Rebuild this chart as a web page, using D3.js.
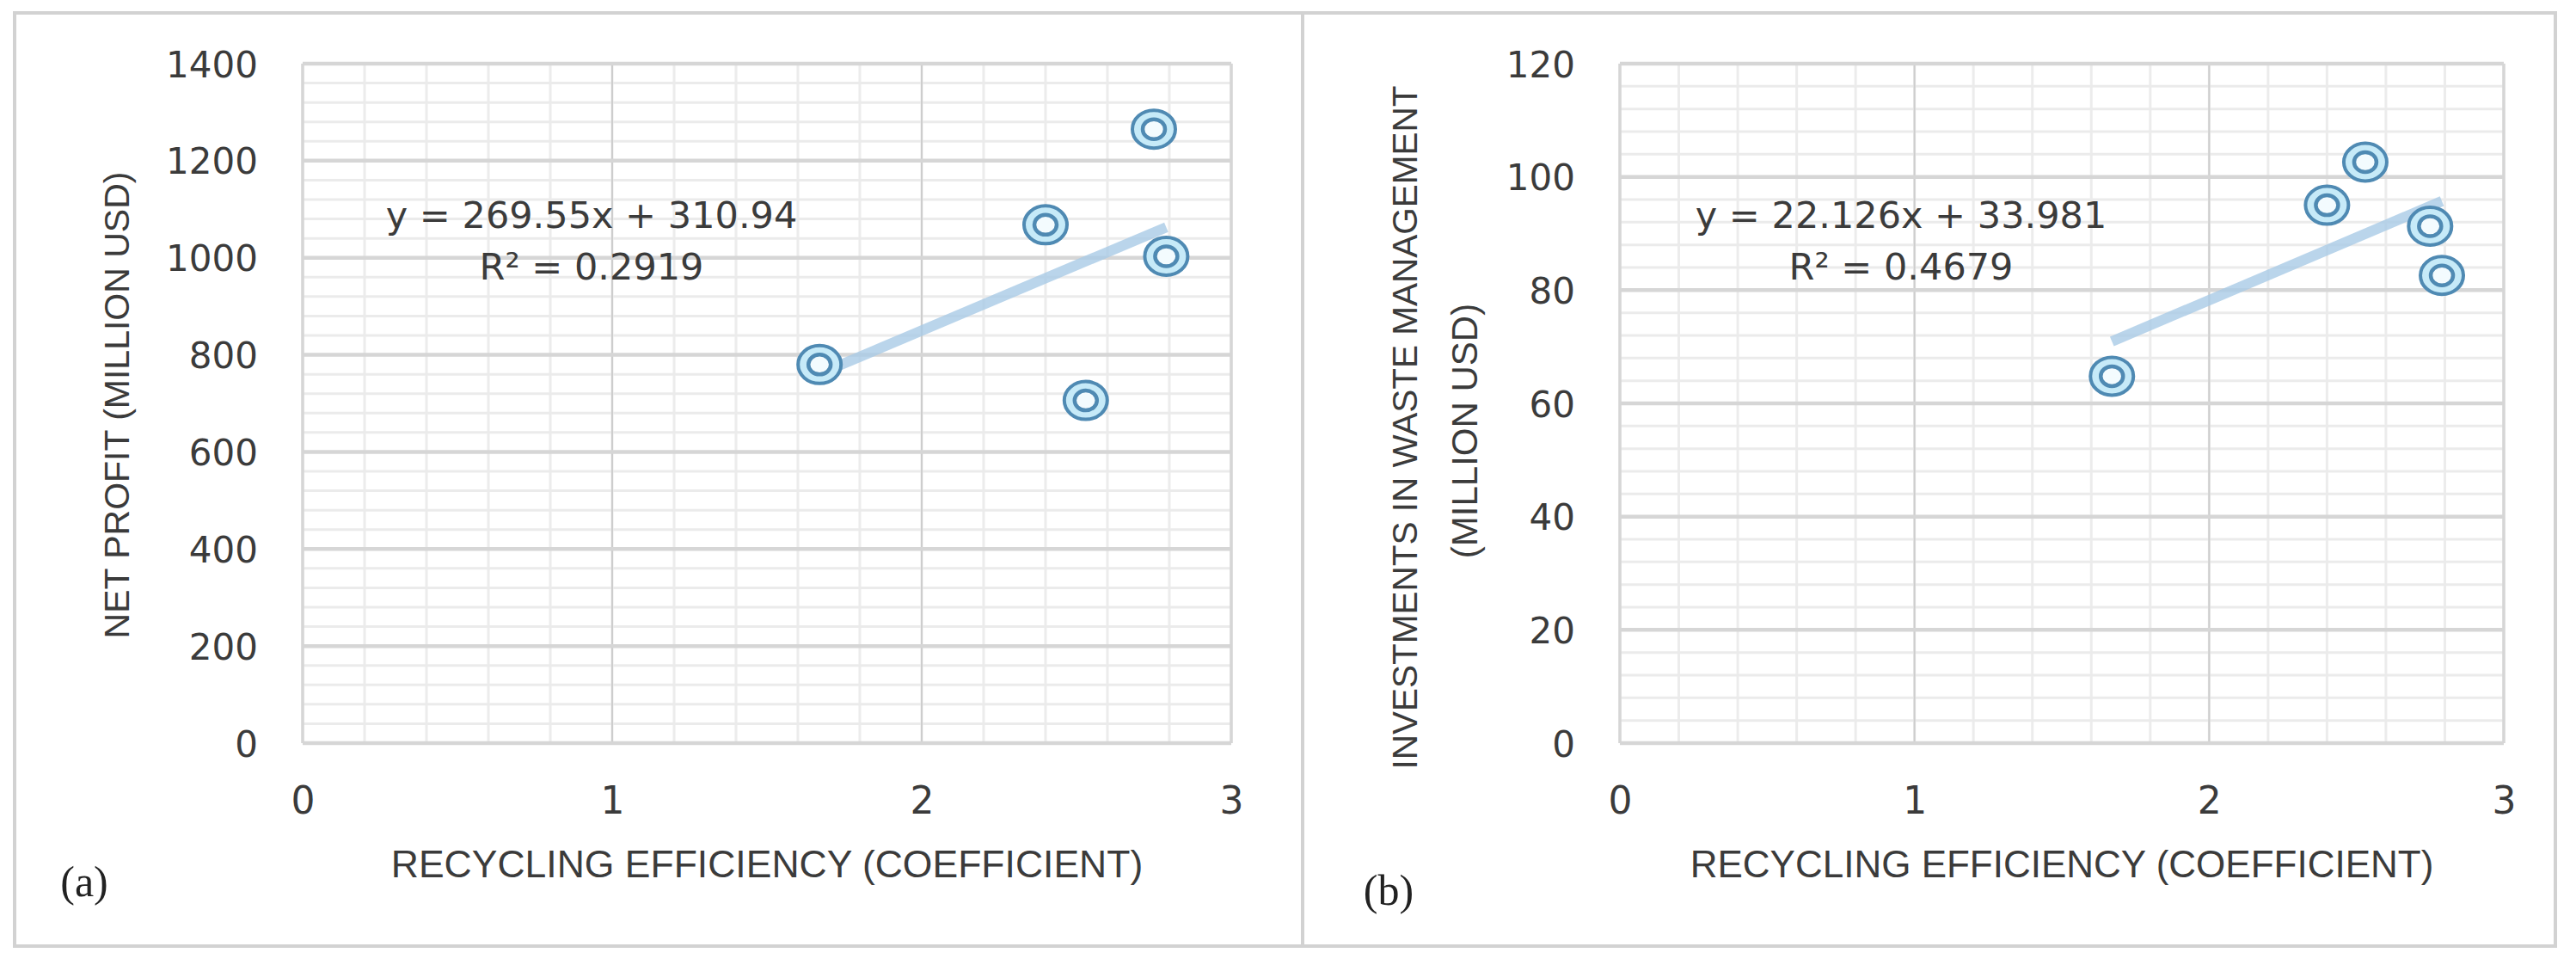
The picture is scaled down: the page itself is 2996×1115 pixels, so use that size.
<!DOCTYPE html>
<html><head><meta charset="utf-8">
<script src="https://cdn.jsdelivr.net/npm/d3@7"></script>
<style>html,body{margin:0;padding:0;background:#fff;} svg{display:block;}</style>
</head><body>
<svg id="chart" width="2996" height="1115"></svg>
<script>
// ---- data ----
const recyclingEfficiency = [1.67, 2.40, 2.53, 2.75, 2.79];
const netProfit = [780, 1068, 706, 1265, 1003];
const wasteInvestment = [64.8, 95.0, 102.6, 91.3, 82.6];
const xTicks = [0, 1, 2, 3];
const profitTicks = [0, 200, 400, 600, 800, 1000, 1200, 1400];
const investTicks = [0, 20, 40, 60, 80, 100, 120];
const trendSlopes = [269.55, 22.126];
const trendIntercepts = [310.94, 33.981];
const equationLabels = ["y = 269.55x + 310.94", "y = 22.126x + 33.981"];
const r2Labels = ["R\u00B2 = 0.2919", "R\u00B2 = 0.4679"];
const yTitles = [["NET PROFIT (MILLION USD)"], ["INVESTMENTS IN WASTE MANAGEMENT", "(MILLION USD)"]];
const xTitle = "RECYCLING EFFICIENCY (COEFFICIENT)";
const panelLabels = ["(a)", "(b)"];

// ---- layout ----
const svg = d3.select("#chart");
const TEXT = "#3b3b3b";
const panels = [
  { ys: netProfit, yTicks: profitTicks, minorStep: 40, x0: 352, x1: 1432, top: 74, bot: 864,
    eqX: 688, yTitle: [{ bx: 150, cy: 471, fs: 41 }],
    lab: { x: 98, y: 1042 } },
  { ys: wasteInvestment, yTicks: investTicks, minorStep: 4, x0: 1884, x1: 2912, top: 74, bot: 864,
    eqX: 2211, yTitle: [{ bx: 1648, cy: 497, fs: 40.5 }, { bx: 1718, cy: 501, fs: 42 }],
    lab: { x: 1615, y: 1052 } }
];

// outer frame
svg.append("rect").attr("x", 17).attr("y", 15).attr("width", 2955).attr("height", 1085)
  .attr("fill", "none").attr("stroke", "#d2d2d2").attr("stroke-width", 4);
svg.append("line").attr("x1", 1515).attr("x2", 1515).attr("y1", 15).attr("y2", 1100)
  .attr("stroke", "#d2d2d2").attr("stroke-width", 4);

panels.forEach((p, i) => {
  const yMax = d3.max(p.yTicks);
  const x = d3.scaleLinear().domain([0, 3]).range([p.x0, p.x1]);
  const y = d3.scaleLinear().domain([0, yMax]).range([p.bot, p.top]);
  const g = svg.append("g");

  // minor gridlines
  const minorX = d3.range(0, 3.0001, 0.2);
  const minorY = d3.range(0, yMax + 0.001, p.minorStep);
  g.selectAll(".mx").data(minorX).join("line")
    .attr("x1", d => x(d)).attr("x2", d => x(d)).attr("y1", p.top).attr("y2", p.bot)
    .attr("stroke", "#ececec").attr("stroke-width", 3);
  g.selectAll(".my").data(minorY).join("line")
    .attr("x1", p.x0).attr("x2", p.x1).attr("y1", d => y(d)).attr("y2", d => y(d))
    .attr("stroke", "#ebebeb").attr("stroke-width", 3);
  // major gridlines
  g.selectAll(".Mx").data(xTicks).join("line")
    .attr("x1", d => x(d)).attr("x2", d => x(d)).attr("y1", p.top).attr("y2", p.bot)
    .attr("stroke", d => (d === 0 || d === 3) ? "#d6d6d6" : "#cdcdcd")
    .attr("stroke-width", d => (d === 0 || d === 3) ? 3.5 : 2);
  g.selectAll(".My").data(p.yTicks).join("line")
    .attr("x1", p.x0).attr("x2", p.x1).attr("y1", d => y(d)).attr("y2", d => y(d))
    .attr("stroke", "#d6d6d6").attr("stroke-width", 4.5);

  // axes
  const ya = svg.append("g").attr("transform", `translate(${p.x0},0)`)
    .call(d3.axisLeft(y).tickValues(p.yTicks).tickFormat(d3.format("d")).tickSize(0).tickPadding(52));
  ya.select(".domain").remove();
  ya.selectAll("text").attr("font-family", "DejaVu Sans").attr("font-size", 42)
    .attr("fill", TEXT).attr("dy", "0.36em");

  const xa = svg.append("g").attr("transform", `translate(0,${p.bot})`)
    .call(d3.axisBottom(x).tickValues(xTicks).tickFormat(d3.format("d")).tickSize(0));
  xa.select(".domain").remove();
  xa.selectAll("text").attr("font-family", "DejaVu Sans").attr("font-size", 44)
    .attr("fill", TEXT).attr("dy", null).attr("y", 946 - p.bot);

  // trendline
  const xr = d3.extent(recyclingEfficiency);
  const line = d3.line().x(d => x(d)).y(d => y(trendSlopes[i] * d + trendIntercepts[i]));
  svg.append("path").attr("d", line(xr)).attr("fill", "none")
    .attr("stroke", "#a9cbe6").attr("stroke-opacity", 0.8)
    .attr("stroke-width", 12).attr("stroke-linecap", "butt");

  // markers
  const pts = recyclingEfficiency.map((v, k) => [v, p.ys[k]]);
  const mk = svg.append("g").selectAll("g").data(pts).join("g")
    .attr("transform", d => `translate(${x(d[0])},${y(d[1])})`);
  mk.append("ellipse").attr("rx", 25).attr("ry", 22)
    .attr("fill", "#c6eaf8").attr("stroke", "#4f8ab3").attr("stroke-width", 4);
  mk.append("ellipse").attr("rx", 13).attr("ry", 11.5)
    .attr("fill", "#f3fbfe").attr("stroke", "#4f8ab3").attr("stroke-width", 4.5);

  // equation labels
  svg.append("text").attr("x", p.eqX).attr("y", 265).attr("text-anchor", "middle")
    .attr("font-family", "DejaVu Sans").attr("font-size", 43).attr("fill", TEXT)
    .text(equationLabels[i]);
  svg.append("text").attr("x", p.eqX).attr("y", 325).attr("text-anchor", "middle")
    .attr("font-family", "DejaVu Sans").attr("font-size", 43).attr("fill", TEXT)
    .text(r2Labels[i]);

  // y title
  yTitles[i].forEach((t, k) => {
    const pos = p.yTitle[k];
    svg.append("text")
      .attr("transform", `translate(${pos.bx},${pos.cy}) rotate(-90)`)
      .attr("text-anchor", "middle")
      .attr("font-family", "Liberation Sans").attr("font-size", pos.fs).attr("fill", TEXT)
      .text(t);
  });

  // x title
  svg.append("text").attr("x", (p.x0 + p.x1) / 2).attr("y", 1020).attr("text-anchor", "middle")
    .attr("font-family", "Liberation Sans").attr("font-size", i === 0 ? 44.5 : 44)
    .attr("fill", TEXT).text(xTitle);

  // panel label
  svg.append("text").attr("x", p.lab.x).attr("y", p.lab.y).attr("text-anchor", "middle")
    .attr("font-family", "Liberation Serif").attr("font-size", 50).attr("fill", "#222")
    .text(panelLabels[i]);
});
</script>
</body></html>
